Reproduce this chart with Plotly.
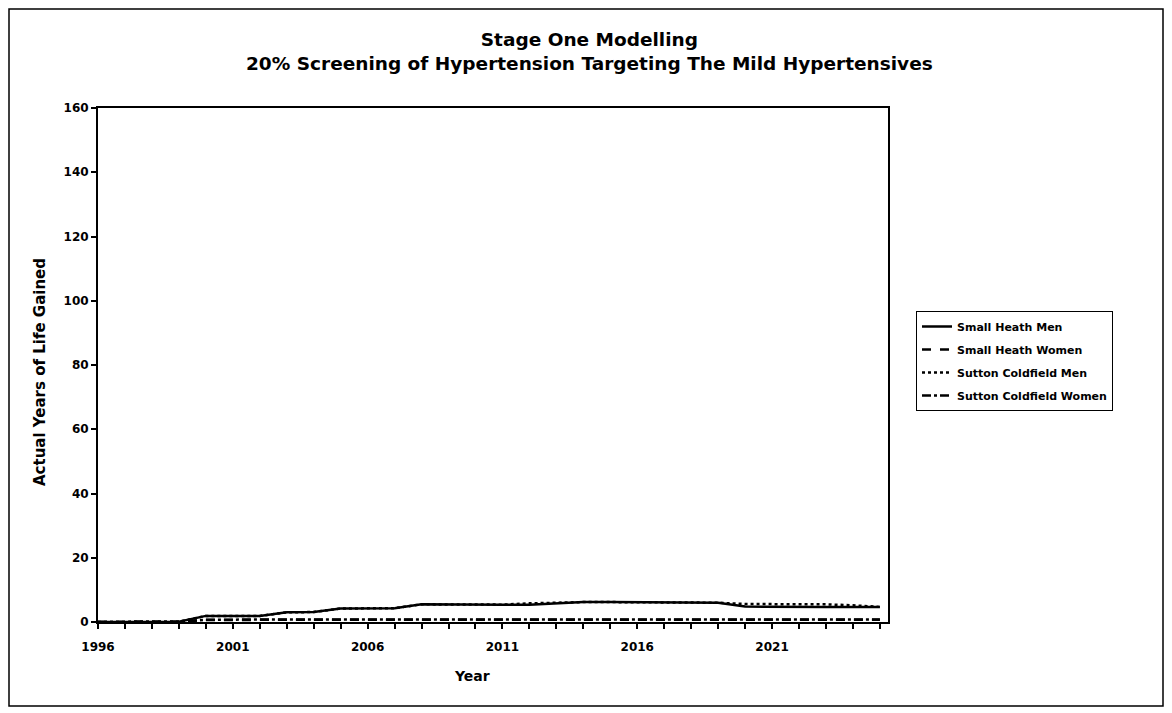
import plotly.graph_objects as go

years = list(range(1996, 2026))

small_heath_men = [0, 0, 0, 0.1, 1.9, 1.9, 1.9, 3.0, 3.1, 4.2, 4.3, 4.3, 5.5, 5.4, 5.4, 5.4, 5.4,
                   5.8, 6.2, 6.2, 6.2, 6.1, 6.0, 6.0, 4.8, 4.7, 4.7, 4.7, 4.7, 4.7]
small_heath_women = [0, 0, 0, 0.1, 0.6, 0.7, 0.7, 0.7, 0.7, 0.7, 0.7, 0.7, 0.7, 0.7, 0.7, 0.7, 0.7,
                     0.7, 0.7, 0.7, 0.7, 0.7, 0.7, 0.7, 0.7, 0.7, 0.7, 0.7, 0.7, 0.7]
sutton_coldfield_men = [0, 0, 0, 0.1, 1.9, 1.9, 1.9, 3.0, 3.1, 4.2, 4.3, 4.3, 5.5, 5.4, 5.4, 5.4, 5.8,
                        6.1, 6.2, 6.2, 6.2, 6.1, 6.0, 6.0, 5.6, 5.6, 5.6, 5.5, 5.2, 4.7]
sutton_coldfield_women = [0, 0, 0, 0.1, 0.7, 0.8, 0.8, 0.8, 0.8, 0.8, 0.8, 0.8, 0.8, 0.8, 0.8, 0.8, 0.8,
                          0.8, 0.8, 0.8, 0.8, 0.8, 0.8, 0.8, 0.8, 0.8, 0.8, 0.8, 0.8, 0.8]

series_names = ["Small Heath Men", "Small Heath Women", "Sutton Coldfield Men", "Sutton Coldfield Women"]
series_values = [small_heath_men, small_heath_women, sutton_coldfield_men, sutton_coldfield_women]
dashes = ["solid", "dash", "dot", "dashdot"]

x_tick_labels = [1996, 2001, 2006, 2011, 2016, 2021]

FONT = "DejaVu Sans, Arial, sans-serif"
OFF = 8  # default page body margin

fig = go.Figure()
for name, vals, d in zip(series_names, series_values, dashes):
    fig.add_trace(go.Scatter(x=years, y=vals, name=name, mode="lines", legendgroup=name,
                             line=dict(color="black", width=2.5, dash=d)))

L, R, T, B = 98 - OFF, 888 - OFF, 108 - OFF, 622 - OFF
W, H = 1172 - OFF, 713 - OFF
pw, ph = R - L, B - T

def px(x):
    return (x - OFF - L) / pw

def py(y):
    return (B - (y - OFF)) / ph

fig.update_layout(
    width=W, height=H,
    margin=dict(l=L, r=W - R, t=T, b=H - B, autoexpand=False),
    paper_bgcolor="white", plot_bgcolor="white",
    font=dict(family=FONT, color="black", size=12),
    showlegend=True,
    legend=dict(x=px(916), y=py(311), xanchor="left", yanchor="top",
                bordercolor="black", borderwidth=1, bgcolor="white",
                font=dict(size=11, family=FONT, weight="bold"),
                tracegroupgap=4, itemwidth=30),
    xaxis=dict(range=[1996, 2025.3], tickvals=x_tick_labels, ticktext=[str(v) for v in x_tick_labels],
               ticks="outside", ticklen=5, tickcolor="black", tickwidth=1.5,
               minor=dict(dtick=1, tick0=1996, ticks="outside", ticklen=5, tickcolor="black"),
               showline=True, linecolor="black", linewidth=2, mirror=True,
               showgrid=False, zeroline=False, ticklabelstandoff=8,
               tickfont=dict(size=12, family=FONT, weight="bold")),
    yaxis=dict(range=[0, 160], dtick=20, ticks="outside", ticklen=5, tickcolor="black", tickwidth=1.5,
               showline=True, linecolor="black", linewidth=2, mirror=True,
               showgrid=False, zeroline=False,
               tickfont=dict(size=12, family=FONT, weight="bold")),
    shapes=[dict(type="rect", xref="paper", yref="paper",
                 x0=px(9), x1=px(1163), y0=py(706), y1=py(9),
                 line=dict(color="black", width=1.5), fillcolor="rgba(0,0,0,0)", layer="below")],
    annotations=[
        dict(text="Stage One Modelling<br>20% Screening of Hypertension Targeting The Mild Hypertensives",
             xref="paper", yref="paper", x=px(589), y=py(52), xanchor="center", yanchor="middle",
             showarrow=False, align="center",
             font=dict(size=18.5, family=FONT, weight="bold")),
        dict(text="Year", xref="paper", yref="paper", x=px(472), y=py(676),
             xanchor="center", yanchor="middle", showarrow=False,
             font=dict(size=14, family=FONT, weight="bold")),
        dict(text="Actual Years of Life Gained", xref="paper", yref="paper", x=px(40), y=py(372),
             xanchor="center", yanchor="middle", showarrow=False, textangle=-90,
             font=dict(size=15, family=FONT, weight="bold")),
    ],
)

fig.write_html("out.html")
